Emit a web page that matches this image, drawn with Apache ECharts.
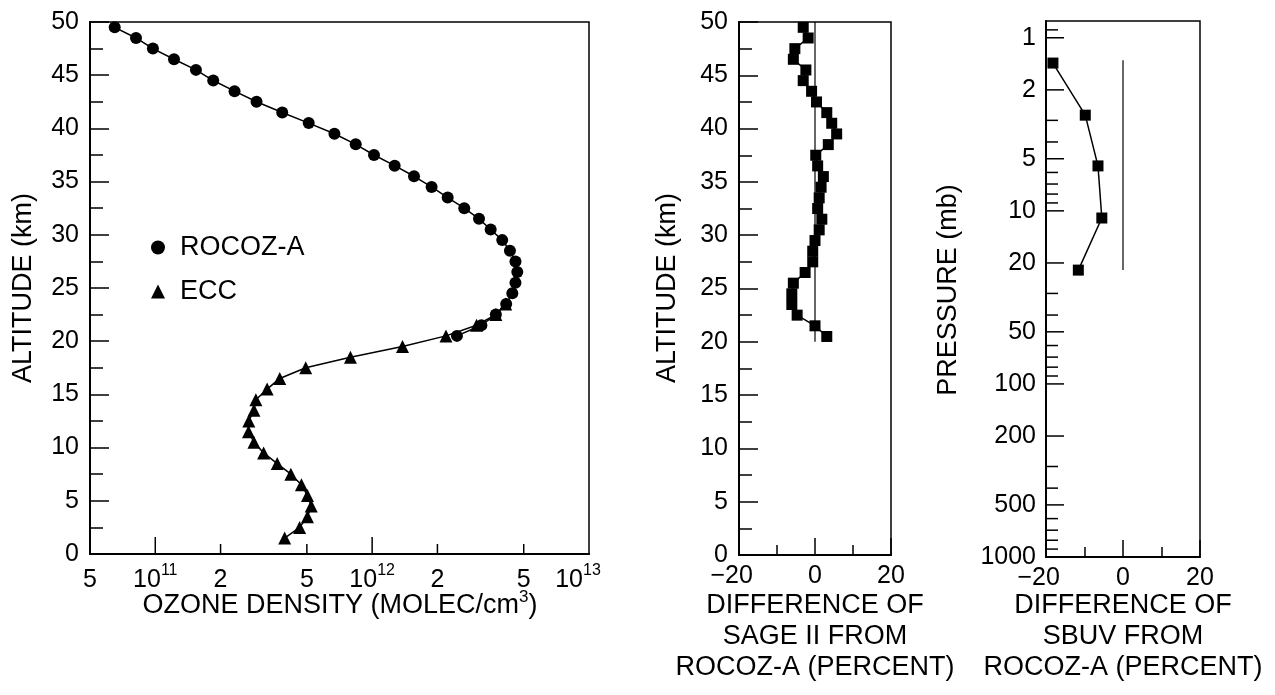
<!DOCTYPE html>
<html><head><meta charset="utf-8">
<script src="https://cdn.jsdelivr.net/npm/echarts@6/dist/echarts.min.js"></script>
<style>html,body{margin:0;padding:0;background:#fff}#c{width:1275px;height:695px}</style>
</head><body><div id="c"></div>
<script>
// ---------------- data ----------------
const rocozAltitude = [49.5,48.5,47.5,46.5,45.5,44.5,43.5,42.5,41.5,40.5,39.5,38.5,37.5,36.5,35.5,34.5,33.5,32.5,31.5,30.5,29.5,28.5,27.5,26.5,25.5,24.5,23.5,22.5,21.5,20.5];
const rocozDensity = [6.5e10,8.15e10,9.75e10,1.22e11,1.54e11,1.85e11,2.32e11,2.93e11,3.85e11,5.1e11,6.7e11,8.4e11,1.02e12,1.27e12,1.56e12,1.88e12,2.23e12,2.66e12,3.11e12,3.52e12,3.98e12,4.32e12,4.58e12,4.67e12,4.58e12,4.43e12,4.15e12,3.72e12,3.19e12,2.46e12];
const eccAltitude = [1.5,2.5,3.5,4.5,5.5,6.5,7.5,8.5,9.5,10.5,11.5,12.5,13.5,14.5,15.5,16.5,17.5,18.5,19.5,20.5,21.5,22.5,23.5];
const eccDensity = [3.95e11,4.63e11,5.03e11,5.24e11,5.03e11,4.72e11,4.22e11,3.65e11,3.16e11,2.85e11,2.69e11,2.70e11,2.85e11,2.91e11,3.28e11,3.75e11,4.94e11,7.94e11,1.38e12,2.19e12,3.03e12,3.72e12,4.13e12];
const sageAltitude = [49.5,48.5,47.5,46.5,45.5,44.5,43.5,42.5,41.5,40.5,39.5,38.5,37.5,36.5,35.5,34.5,33.5,32.5,31.5,30.5,29.5,28.5,27.5,26.5,25.5,24.5,23.5,22.5,21.5,20.5];
const sageDiff = [-3.1,-1.8,-5.3,-5.7,-2.4,-3.1,-0.9,0.4,3.1,4.4,5.7,3.5,0.2,0.7,2.2,1.6,1.1,0.7,1.8,1.1,0,-0.6,-0.6,-2.6,-5.7,-6.1,-6.1,-4.7,0,3.1];
const sbuvPressure = [1.4, 2.8, 5.5, 11, 22];
const sbuvDiff = [-18.2, -9.8, -6.5, -5.5, -11.6];
const sageZeroLine = [20, 50];      // altitude extent of 0 % reference line
const sbuvZeroLine = [1.35, 22];    // pressure extent of 0 % reference line
const densityTicks = [5e10, 1e11, 2e11, 5e11, 1e12, 2e12, 5e12, 1e13];
const densityTickLabels = ['5', '10{s|11}', '2', '5', '10{s|12}', '2', '5', '10{s|13}'];
const pressureMajorTicks = [1, 2, 5, 10, 20, 50, 100, 200, 500, 1000];
const pressureMinorTicks = [0.9, 3, 4, 6, 7, 8, 9, 30, 40, 60, 70, 80, 90, 300, 400, 600, 700, 800, 900];

// ---------------- styling ----------------
const FF = '"Liberation Sans", Arial, Helvetica, sans-serif';
const TICK_FS = 25, TITLE_FS = 27;
const zip = (xs, ys) => xs.map((x, i) => [x, ys[i]]);
const minus = v => v < 0 ? '{m|\u2212' + Math.abs(v) + '}{h|\u2212}' : '{m|' + v + '}';

function altitudeAxis(gi) {
  return {
    type: 'value', gridIndex: gi, min: 0, max: 50, interval: 5,
    axisLine: {show: true, onZero: false, lineStyle: {color: '#000', width: 2}},
    axisTick: {show: true, inside: true, length: 19, lineStyle: {color: '#000', width: 1.5}},
    minorTick: {show: true, splitNumber: 2, length: 13, lineStyle: {color: '#000', width: 1.5}},
    axisLabel: {color: '#000', fontSize: TICK_FS, fontFamily: FF, margin: 11},
    splitLine: {show: false}, minorSplitLine: {show: false}
  };
}
function percentAxis(gi) {
  return {
    type: 'value', gridIndex: gi, min: -20, max: 20, interval: 20,
    axisLine: {show: true, onZero: false, lineStyle: {color: '#000', width: 2}},
    axisTick: {show: true, inside: true, length: 17, lineStyle: {color: '#000', width: 1.5}},
    minorTick: {show: true, splitNumber: 2, length: 10, lineStyle: {color: '#000', width: 1.5}},
    axisLabel: {color: '#000', fontSize: TICK_FS, fontFamily: FF, margin: 9, formatter: minus,
      rich: {m: {fontSize: TICK_FS, fontFamily: FF, color: '#000'}, h: {fontSize: TICK_FS, fontFamily: FF, color: 'rgba(0,0,0,0)'}}},
    splitLine: {show: false}, minorSplitLine: {show: false}
  };
}

function densityTickRender(params, api) {
  const i = params.dataIndex;
  const v = api.value(0);
  const p = api.coord([v, api.value(1)]);
  const lg = Math.log10(v);
  const decade = Math.abs(lg - Math.round(lg)) < 1e-9;
  const last = i === densityTicks.length - 1;
  const children = [];
  if (i !== 0 && !last) {
    children.push({type: 'line', shape: {x1: p[0], y1: p[1], x2: p[0], y2: p[1] - (decade ? 17 : 10)},
      style: {stroke: '#000', lineWidth: 1.5}});
  }
  children.push({type: 'text', x: p[0] + (last ? -11 : 0), y: p[1] + 26,
    style: {text: densityTickLabels[i], align: 'center', verticalAlign: 'middle', fill: '#000',
      fontSize: TICK_FS, fontFamily: FF, lineHeight: 34,
      rich: {s: {fontSize: 16, fontFamily: FF, lineHeight: 15, verticalAlign: 'top', fill: '#000'}}}});
  return {type: 'group', children};
}

function pressureTickRender(params, api) {
  const p = api.coord([api.value(0), api.value(1)]);
  const major = api.value(2) === 1;
  const children = [{type: 'line', shape: {x1: p[0], y1: p[1], x2: p[0] + (major ? 18 : 12), y2: p[1]},
    style: {stroke: '#000', lineWidth: 1.5}}];
  if (major) {
    children.push({type: 'text', x: p[0] - 10, y: p[1],
      style: {text: String(api.value(1)), align: 'right', verticalAlign: 'middle', fill: '#000', fontSize: TICK_FS, fontFamily: FF}});
  }
  return {type: 'group', children};
}

const gridStyle = {show: true, borderColor: '#000', borderWidth: 1.5, backgroundColor: 'transparent', containLabel: false};
const lineSeriesBase = {type: 'line', color: '#000', lineStyle: {color: '#000', width: 1.5}, itemStyle: {color: '#000'}, z: 3};
const refLineBase = {type: 'line', symbol: 'none', silent: true, color: '#000', lineStyle: {color: '#000', width: 1.2}, z: 2};

const option = {
  animation: false,
  backgroundColor: '#fff',
  textStyle: {fontFamily: FF},
  grid: [
    Object.assign({left: 90, top: 22, width: 499, height: 532}, gridStyle),
    Object.assign({left: 739, top: 22, width: 152, height: 533}, gridStyle),
    Object.assign({left: 1046, top: 21, width: 154, height: 536}, gridStyle)
  ],
  xAxis: [
    {type: 'log', logBase: 10, gridIndex: 0, min: 5e10, max: 1e13,
      axisLine: {show: true, onZero: false, lineStyle: {color: '#000', width: 2}}, axisTick: {show: false}, axisLabel: {show: false},
      splitLine: {show: false}, minorTick: {show: false}},
    percentAxis(1),
    percentAxis(2)
  ],
  yAxis: [
    altitudeAxis(0),
    altitudeAxis(1),
    {type: 'log', logBase: 10, gridIndex: 2, min: 0.8, max: 1000, inverse: true,
      axisLine: {show: true, onZero: false, lineStyle: {color: '#000', width: 2}}, axisTick: {show: false}, axisLabel: {show: false},
      splitLine: {show: false}, minorTick: {show: false}}
  ],
  legend: {
    left: 146, top: 229, orient: 'vertical', itemGap: 17, itemWidth: 14, itemHeight: 14,
    selectedMode: false,
    textStyle: {color: '#000', fontSize: TITLE_FS, fontFamily: FF, padding: [0, 0, 0, 10]},
    data: [{name: 'ROCOZ-A', icon: 'circle'}, {name: 'ECC', icon: 'triangle'}]
  },
  series: [
    Object.assign({}, lineSeriesBase, {name: 'ROCOZ-A', xAxisIndex: 0, yAxisIndex: 0, symbol: 'circle', symbolSize: 12,
      data: zip(rocozDensity, rocozAltitude)}),
    Object.assign({}, lineSeriesBase, {name: 'ECC', xAxisIndex: 0, yAxisIndex: 0, symbol: 'triangle', symbolSize: 13,
      data: zip(eccDensity, eccAltitude)}),
    {type: 'custom', name: 'densityTicks', xAxisIndex: 0, yAxisIndex: 0, silent: true, clip: false, z: 5,
      renderItem: densityTickRender, data: densityTicks.map(v => [v, 0])},
    Object.assign({}, refLineBase, {name: 'sageZero', xAxisIndex: 1, yAxisIndex: 1, data: zip([0, 0], sageZeroLine)}),
    Object.assign({}, lineSeriesBase, {name: 'SAGE II', xAxisIndex: 1, yAxisIndex: 1, symbol: 'rect', symbolSize: 11,
      data: zip(sageDiff, sageAltitude)}),
    Object.assign({}, refLineBase, {name: 'sbuvZero', xAxisIndex: 2, yAxisIndex: 2, data: zip([0, 0], sbuvZeroLine)}),
    Object.assign({}, lineSeriesBase, {name: 'SBUV', xAxisIndex: 2, yAxisIndex: 2, symbol: 'rect', symbolSize: 11,
      data: zip(sbuvDiff, sbuvPressure)}),
    {type: 'custom', name: 'pressureTicks', xAxisIndex: 2, yAxisIndex: 2, silent: true, clip: false, z: 5,
      renderItem: pressureTickRender,
      data: pressureMajorTicks.map(v => [-20, v, 1]).concat(pressureMinorTicks.map(v => [-20, v, 0]))}
  ],
  graphic: [
    {type: 'text', x: 24, y: 288, rotation: Math.PI / 2,
      style: {text: 'ALTITUDE (km)', fill: '#000', fontSize: TITLE_FS, fontFamily: FF, align: 'center', verticalAlign: 'middle'}},
    {type: 'text', x: 668, y: 288, rotation: Math.PI / 2,
      style: {text: 'ALTITUDE (km)', fill: '#000', fontSize: TITLE_FS, fontFamily: FF, align: 'center', verticalAlign: 'middle'}},
    {type: 'text', x: 949, y: 290, rotation: Math.PI / 2,
      style: {text: 'PRESSURE (mb)', fill: '#000', fontSize: TITLE_FS, fontFamily: FF, align: 'center', verticalAlign: 'middle'}},
    {type: 'text', x: 340, y: 606,
      style: {text: 'OZONE DENSITY (MOLEC/cm{s|3})', fill: '#000', fontSize: TITLE_FS, fontFamily: FF, align: 'center', verticalAlign: 'middle',
        lineHeight: 34, rich: {s: {fontSize: 17, fontFamily: FF, lineHeight: 16, verticalAlign: 'top', fill: '#000'}}}},
    {type: 'text', x: 815, y: 590,
      style: {text: 'DIFFERENCE OF\nSAGE II FROM\nROCOZ-A (PERCENT)', fill: '#000', fontSize: TITLE_FS, fontFamily: FF,
        align: 'center', verticalAlign: 'top', lineHeight: 31}},
    {type: 'text', x: 1123, y: 590,
      style: {text: 'DIFFERENCE OF\nSBUV FROM\nROCOZ-A (PERCENT)', fill: '#000', fontSize: TITLE_FS, fontFamily: FF,
        align: 'center', verticalAlign: 'top', lineHeight: 31}}
  ]
};

const chart = echarts.init(document.getElementById('c'), null, {renderer: 'canvas'});
chart.setOption(option);
</script>
</body></html>
